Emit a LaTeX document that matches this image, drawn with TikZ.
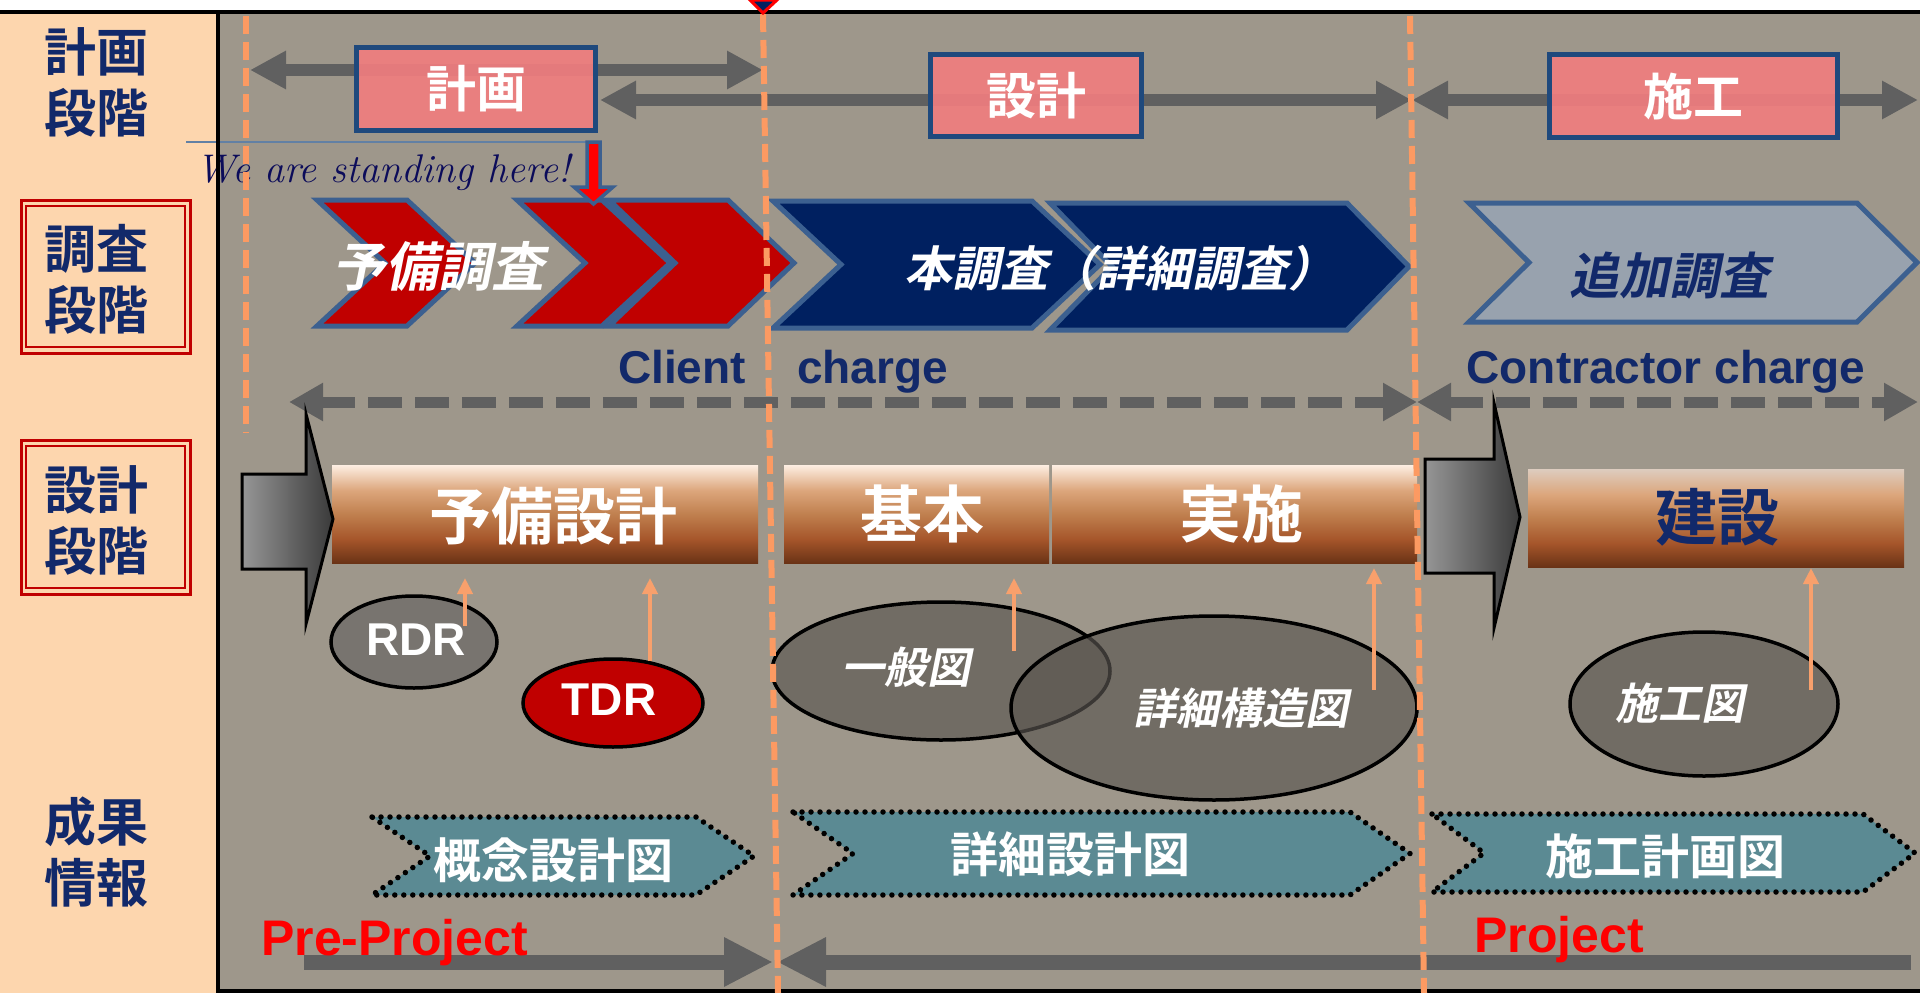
\documentclass[tikz,border=0pt]{standalone}
\usepackage{fontspec}
\usetikzlibrary{arrows.meta}
\newfontfamily\arial{Liberation Sans}
\newfontfamily\cjkb{Noto Sans CJK JP Bold}
\newfontfamily\cjkbi{Noto Sans CJK JP Bold}[FakeSlant=0.2]
\definecolor{peach}{HTML}{FDD6AE}
\definecolor{bggray}{HTML}{9E978B}
\definecolor{navy}{HTML}{12296A}
\definecolor{herenavy}{HTML}{0C0C5A}
\definecolor{arrgray}{HTML}{606060}
\definecolor{pinkbox}{HTML}{F07D7F}
\definecolor{boxblue}{HTML}{1F497D}
\definecolor{chevblue}{HTML}{3C6090}
\definecolor{chevred}{HTML}{C00000}
\definecolor{chevnavy}{HTML}{002060}
\definecolor{chevlight}{HTML}{98A2AE}
\definecolor{teal}{HTML}{5B8A93}
\definecolor{orangeline}{HTML}{FC9A62}
\definecolor{orangearr}{HTML}{F8A06C}
\definecolor{ellgray}{HTML}{78746F}
\definecolor{ellfill}{HTML}{5A5550}
\definecolor{brT}{HTML}{FDEEE2}
\definecolor{brG}{HTML}{DDCCBF}
\definecolor{brL}{HTML}{DCA67C}
\definecolor{brM}{HTML}{C0804F}
\definecolor{brO}{HTML}{A5552A}
\definecolor{brD}{HTML}{6A3316}
\definecolor{gl}{HTML}{969696}
\definecolor{gd}{HTML}{3A3A3A}
\pgfdeclareverticalshading{brownbar}{100bp}{color(0bp)=(brD); color(25bp)=(brD); color(37bp)=(brO); color(50bp)=(brM); color(62bp)=(brL); color(75bp)=(brT); color(100bp)=(brT)}
\pgfdeclareverticalshading{brownbarg}{100bp}{color(0bp)=(brD); color(25bp)=(brD); color(37bp)=(brO); color(50bp)=(brM); color(62bp)=(brL); color(75bp)=(brG); color(100bp)=(brG)}
% chevron: [style] TLx TRx depth topy boty
\newcommand{\chev}[6][]{\path[#1] (#2,#5) -- (#3,#5) -- ({#3+#4},{(#5+#6)/2}) -- (#3,#6) -- (#2,#6) -- ({#2+#4},{(#5+#6)/2}) -- cycle;}
\tikzset{
  gtip/.tip={Triangle[length=36pt,width=36pt]},
  dtip/.tip={Triangle[length=34pt,width=36pt]},
  btip/.tip={Triangle[length=49pt,width=46pt]},
  otip/.tip={Triangle[length=16pt,width=15pt]},
  garrow/.style={draw=arrgray,line width=12pt,gtip-gtip},
  darrow/.style={draw=arrgray,line width=11pt,dash pattern=on 34pt off 13pt,dtip-dtip},
  barrow/.style={draw=arrgray,line width=15pt},
  oarrow/.style={draw=orangearr,line width=4pt,-otip},
  odash/.style={draw=orangeline,line width=6pt,dash pattern=on 18pt off 8pt},
  lbl/.style={font=\cjkb\fontsize{52}{61}\selectfont,text=navy,align=center,inner sep=0pt},
  pbox/.style={draw=boxblue,line width=5pt,fill=pinkbox,fill opacity=0.92,text opacity=1,text=white,font=\cjkb\fontsize{50}{55}\selectfont,inner sep=0pt},
  redchev/.style={draw=chevblue,line width=5pt,fill=chevred},
  navychev/.style={draw=chevblue,line width=5pt,fill=chevnavy},
  lightchev/.style={draw=chevblue,line width=5pt,fill=chevlight},
  tealchev/.style={fill=teal,draw=black,line width=5.5pt,dash pattern=on 0pt off 9pt,line cap=round},
  chevtxt/.style={font=\cjkbi\fontsize{53}{56}\selectfont,text=white,inner sep=0pt},
  bartxt/.style={font=\cjkb\fontsize{62}{66}\selectfont,text=white,inner sep=0pt},
  elltxt/.style={font=\cjkbi\fontsize{43}{46}\selectfont,text=white,inner sep=0pt},
  latxt/.style={font=\arial\bfseries\fontsize{46}{50}\selectfont,inner sep=0pt},
  tealtxt/.style={font=\cjkb\fontsize{48}{52}\selectfont,text=white,inner sep=0pt},
  redbox/.style={draw=chevred,line width=3pt},
  redboxin/.style={draw=chevred,line width=2pt},
  blockarr/.style={left color=gl,right color=gd,draw=black,line width=3pt,line join=miter},
  ell/.style={draw=black,line width=3.5pt},
}
\begin{document}
\begin{tikzpicture}[x=1pt,y=-1pt]
\useasboundingbox (0,0) rectangle (1920,993);
\fill[white] (0,0) rectangle (1920,993);
\fill[peach] (0,12) rectangle (218,993);
\fill[bggray] (218,12) rectangle (1920,993);

% left labels
\draw[redbox] (21,200) rectangle (190,353);
\draw[redboxin] (26,206) rectangle (185,347);
\draw[redbox] (21,440) rectangle (190,594);
\draw[redboxin] (26,446) rectangle (185,588);
\node[lbl] (lab1) at (96,82) {計画\\段階};
\node[lbl] (lab2) at (96,279) {調査\\段階};
\node[lbl] (lab3) at (96,520) {設計\\段階};
\node[lbl] (lab4) at (96,852) {成果\\情報};

% row 1 arrows
\coordinate (a1l) at (250,70); \coordinate (a1r) at (763,70);
\coordinate (a2l) at (600,100); \coordinate (a2r) at (1412,100);
\coordinate (a3l) at (1412,100); \coordinate (a3r) at (1918,100);
\draw[garrow] (a1l) -- (a1r);
\draw[garrow] (a2l) -- (a2r);
\draw[garrow] (a3l) -- (a3r);
\node[pbox,minimum width=239pt,minimum height=83pt] (plan) at (476,89) {計画};
\node[pbox,minimum width=211pt,minimum height=82pt] (design) at (1036,95.5) {設計};
\node[pbox,minimum width=288pt,minimum height=83pt] (constr) at (1693.5,96) {施工};

% row 2 chevrons
\chev[redchev]{317}{407}{68}{200}{326}
\chev[redchev]{517}{602}{68}{200}{326}
\chev[redchev]{609}{728}{66}{200}{326}
\chev[navychev]{773}{1032}{68}{201}{328}
\chev[navychev]{1050}{1347}{62}{203}{330}
\chev[lightchev]{1469}{1857}{60}{203}{322}
\node[chevtxt] (yobi) at (438,266) {予備調査};
\node[chevtxt,font=\cjkbi\fontsize{48}{52}\selectfont] (hon) at (1120,268) {本調査（詳細調査）};
\node[chevtxt,text=navy,font=\cjkbi\fontsize{50}{54}\selectfont] (tsuika) at (1669,276) {追加調査};

% standing here
\draw[draw=boxblue!70!white,line width=1.5pt] (186,142) -- (593,142);
\node[anchor=base west,inner sep=0pt,font=\itshape\fontsize{40}{43}\selectfont,text=herenavy] (here) at (196,182) {We are standing here!};
\draw[fill=red,draw=chevblue,line width=3.5pt,line join=miter] (587,142) -- (600,142) -- (600,187) -- (613,187) -- (593.5,204) -- (574,187) -- (587,187) -- cycle;

% charge texts and dashed arrows
\node[latxt,text=navy,anchor=base west] (client) at (618,383) {Client};
\node[latxt,text=navy,anchor=base west] (charge) at (797,383) {charge};
\node[latxt,text=navy,anchor=base] (contr) at (1666,383) {Contractor charge};
\coordinate (d1l) at (289,402); \coordinate (d1r) at (1417,402);
\coordinate (d2l) at (1417,402); \coordinate (d2r) at (1918,402);
\draw[darrow] (d1l) -- (d1r);
\draw[darrow] (d2l) -- (d2r);

% design bars
\shade[shading=brownbar] (332,465) rectangle (758,563);
\shade[shading=brownbar] (784,465) rectangle (1049,563);
\shade[shading=brownbar] (1052,465) rectangle (1417,563);
\shade[shading=brownbarg] (1528,469) rectangle (1904,567);
\node[bartxt] (b1) at (553,516) {予備設計};
\node[bartxt] (b2) at (922,514) {基本};
\node[bartxt] (b3) at (1241,514) {実施};
\node[bartxt,text=navy] (b4) at (1717,517) {建設};

% block arrows
\draw[blockarr] (242,474) -- (306,474) -- (306,414) -- (333,519) -- (306,624) -- (306,569) -- (242,569) -- cycle;
\draw[blockarr] (1425,459) -- (1494,459) -- (1494,403) -- (1520,517) -- (1494,628) -- (1494,573) -- (1425,573) -- cycle;

% ellipses
\draw[ell,fill=ellgray] (414,642) ellipse [x radius=83, y radius=46];
\draw[ell,fill=chevred] (613,703) ellipse [x radius=90, y radius=44];
\draw[ell,fill=ellfill,fill opacity=0.65] (941,671) ellipse [x radius=169, y radius=69];
\draw[ell,fill=ellfill,fill opacity=0.65] (1214,708) ellipse [x radius=203, y radius=92];
\draw[ell,fill=ellfill,fill opacity=0.65] (1704,704) ellipse [x radius=134, y radius=72];
\node[latxt,text=white] (rdr) at (416,640) {RDR};
\node[latxt,text=white] (tdr) at (609,700) {TDR};
\node[elltxt] (ippan) at (906,667) {一般図};
\node[elltxt] (shosai) at (1241,708) {詳細構造図};
\node[elltxt] (sekozu) at (1680,703) {施工図};

% orange arrows
\coordinate (o1s) at (465,626); \coordinate (o1e) at (465,578);
\coordinate (o2s) at (650,661); \coordinate (o2e) at (650,578);
\coordinate (o3s) at (1014,651); \coordinate (o3e) at (1014,578);
\coordinate (o4s) at (1374,690); \coordinate (o4e) at (1374,568);
\coordinate (o5s) at (1811,690); \coordinate (o5e) at (1811,568);
\draw[oarrow] (o1s) -- (o1e);
\draw[oarrow] (o2s) -- (o2e);
\draw[oarrow] (o3s) -- (o3e);
\draw[oarrow] (o4s) -- (o4e);
\draw[oarrow] (o5s) -- (o5e);

% teal chevrons
\chev[tealchev]{372}{696}{58}{817}{895}
\chev[tealchev]{793}{1350}{60}{812}{895}
\chev[tealchev]{1432}{1863}{52}{814}{892}
\node[tealtxt] (t1) at (553,860) {概念設計図};
\node[tealtxt] (t2) at (1070,854) {詳細設計図};
\node[tealtxt] (t3) at (1665,856) {施工計画図};

% bottom arrows
\coordinate (p1s) at (304,962); \coordinate (p1e) at (773,962);
\coordinate (p2s) at (1911,962); \coordinate (p2e) at (777,962);
\draw[barrow,-btip] (p1s) -- (p1e);
\draw[barrow,-btip] (p2s) -- (p2e);
\node[latxt,text=red,font=\arial\bfseries\fontsize{50}{54}\selectfont,anchor=base west] (pre) at (261,955) {Pre-Project};
\node[latxt,text=red,font=\arial\bfseries\fontsize{50}{54}\selectfont,anchor=base west] (proj) at (1474,952) {Project};

% frame
\draw[black,line width=4pt] (0,12) -- (1920,12);
\draw[black,line width=4pt] (218,12) -- (218,993);
\draw[black,line width=4pt] (218,991) -- (1920,991);

% dashed orange lines
\draw[odash] (246,16) -- (246,433);
\draw[odash] (763,14) -- (778,993);
\draw[odash] (1410,16) -- (1424,993);

% top marker
\draw[fill=chevnavy,draw=red,line width=3pt,line join=miter] (750,0) -- (777,0) -- (763,13) -- cycle;
\end{tikzpicture}
\end{document}
